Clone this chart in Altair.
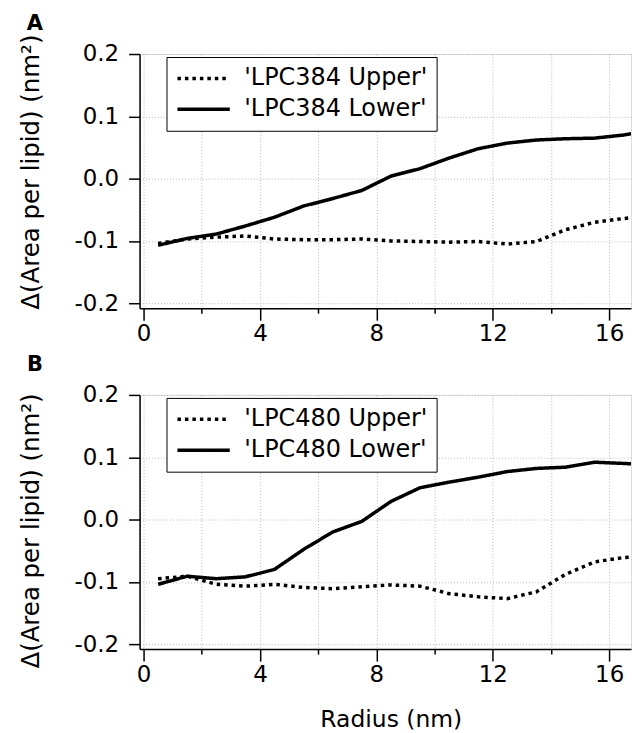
import altair as alt
import pandas as pd

# Radius (nm) sample positions
radius = [0.5, 1.5, 2.5, 3.5, 4.5, 5.5, 6.5, 7.5, 8.5, 9.5,
          10.5, 11.5, 12.5, 13.5, 14.5, 15.5, 16.5, 17.5]

# Panel A
a_upper = [-0.104, -0.097, -0.094, -0.092, -0.097, -0.098, -0.098, -0.097, -0.100, -0.101,
           -0.102, -0.101, -0.105, -0.101, -0.082, -0.070, -0.064, -0.060]
a_lower = [-0.107, -0.096, -0.089, -0.076, -0.062, -0.044, -0.032, -0.019, 0.004, 0.016,
           0.033, 0.048, 0.057, 0.062, 0.064, 0.065, 0.070, 0.078]

# Panel B
b_upper = [-0.095, -0.091, -0.104, -0.107, -0.104, -0.109, -0.111, -0.108, -0.105, -0.107,
           -0.119, -0.124, -0.127, -0.116, -0.088, -0.068, -0.061, -0.059]
b_lower = [-0.104, -0.091, -0.095, -0.092, -0.080, -0.048, -0.020, -0.003, 0.029, 0.051,
           0.060, 0.068, 0.077, 0.082, 0.084, 0.092, 0.090, 0.088]

FONT = "DejaVu Sans"
x_ticks = [0, 2, 4, 6, 8, 10, 12, 14, 16]
y_ticks = [-0.2, -0.1, 0.0, 0.1, 0.2]
Y_TITLE = "Δ(Area per lipid) (nm²)"


def panel(upper, lower, up_name, low_name, letter, title_y, x_title):
    n = len(radius)
    df = pd.DataFrame({
        "radius": radius * 2,
        "value": upper + lower,
        "series": [up_name] * n + [low_name] * n,
    })
    x_axis_kwargs = dict(
        values=x_ticks,
        labelExpr="datum.value % 4 === 0 ? datum.label : ''",
        tickSize={"condition": {"test": "datum.value % 4 === 0", "value": 12}, "value": 5},
        labelPadding=2,
        labelFontSize=23,
        labelFont=FONT,
        labelColor="black",
        domainColor="black",
        domainWidth=1.5,
        tickColor="black",
        tickWidth=1.5,
        gridDash=[1, 2],
        gridColor="#b8b8b8",
        gridWidth=1,
        title=x_title,
    )
    if x_title:
        x_axis_kwargs.update(titleX=252, titleY=71, titleFontSize=23.5, titleFont=FONT,
                             titleFontWeight="normal", titleAlign="center",
                             titleBaseline="middle", titleColor="black")
    lines = alt.Chart(df).mark_line(clip=True, color="black", strokeWidth=3.5,
                                    strokeCap="butt").encode(
        x=alt.X("radius:Q", scale=alt.Scale(domain=[-0.137, 16.75], nice=False, zero=False),
                axis=alt.Axis(**x_axis_kwargs)),
        y=alt.Y("value:Q", scale=alt.Scale(domain=[-0.208, 0.2], nice=False, zero=False),
                axis=alt.Axis(values=y_ticks,
                              labelExpr="replace(format(datum.value, '.1f'), '\u2212', '-')",
                              tickSize=11, labelPadding=10, labelFontSize=23,
                              labelFont=FONT, labelColor="black",
                              domainColor="black", domainWidth=1.5,
                              tickColor="black", tickWidth=1.5,
                              gridDash=[1, 2], gridColor="#b8b8b8", gridWidth=1,
                              title=Y_TITLE, titleFont=FONT, titleFontSize=24.5,
                              titleFontWeight="normal", titleColor="black",
                              titleAngle=270, titleX=-108, titleY=title_y,
                              titleAlign="center", titleBaseline="middle")),
        strokeDash=alt.StrokeDash(
            "series:N",
            scale=alt.Scale(domain=[up_name, low_name], range=[[3.5, 4], [1, 0]]),
            legend=alt.Legend(orient="none", legendX=27, legendY=3, title=None,
                              symbolType="M-1,0H4", symbolSize=441,
                              symbolStrokeWidth=3.5, symbolStrokeColor="black",
                              labelFontSize=24, labelFont=FONT, labelColor="black",
                              labelOffset=44, labelLimit=400, padding=9, rowPadding=6,
                              strokeColor="black", fillColor="white"),
        ),
        detail="series:N",
    )
    label = alt.Chart(pd.DataFrame({"t": [letter]})).mark_text(
        font=FONT, fontWeight="bold", fontSize=21, align="center", baseline="middle",
        color="black"
    ).encode(text="t:N", x=alt.value(-105), y=alt.value(-30))
    return alt.layer(lines, label).properties(width=493, height=255)


pA = panel(a_upper, a_lower, "'LPC384 Upper'", "'LPC384 Lower'", "A", 118, "")
pB = panel(b_upper, b_lower, "'LPC480 Upper'", "'LPC480 Lower'", "B", 136, "Radius (nm)")

chart = alt.vconcat(pA, pB, spacing=87, bounds="flush").resolve_scale(
    strokeDash="independent"
).properties(
    padding={"left": 10, "top": 3, "right": 0, "bottom": 0}
).configure_view(stroke="transparent").configure(background="white")

chart.save("out.html", embed_options={"renderer": "svg", "actions": False})
